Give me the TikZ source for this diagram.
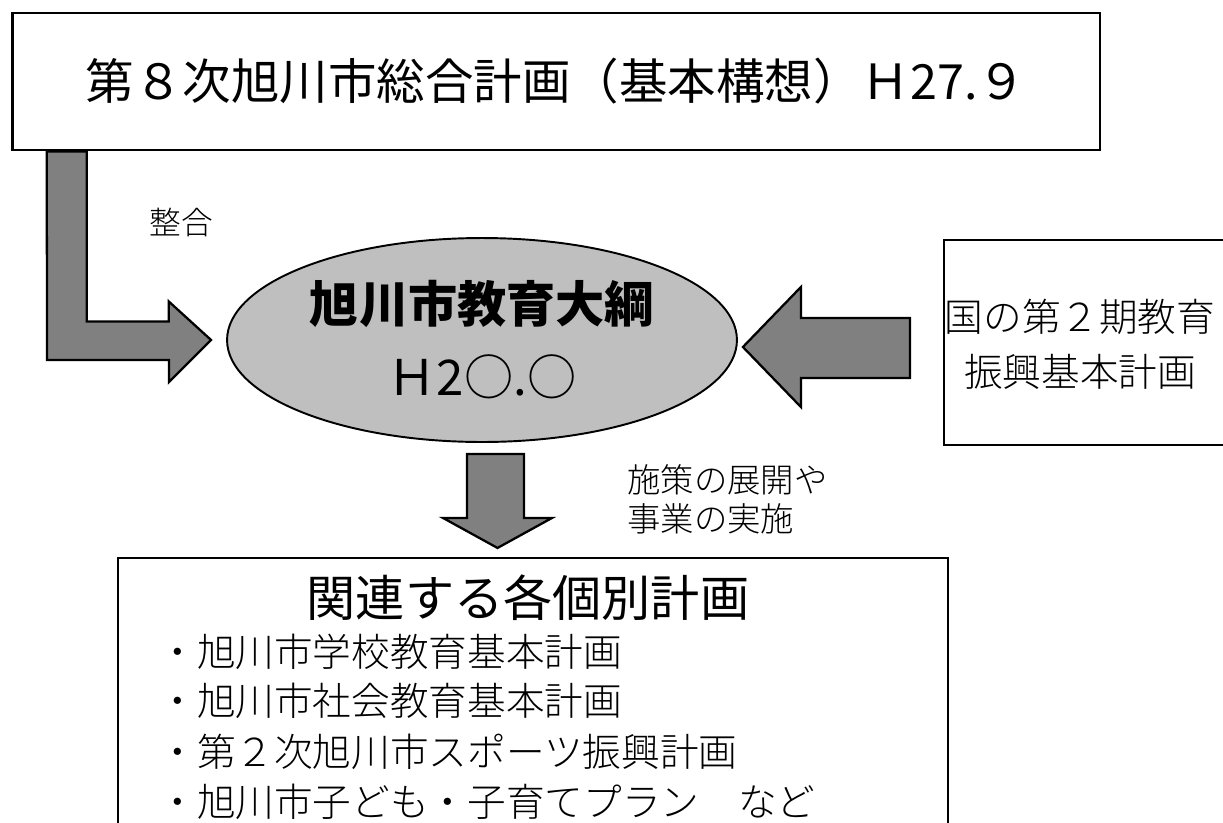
\documentclass[tikz,border=0pt]{standalone}
\usepackage{fontspec}
\setmainfont{Noto Sans CJK JP}
\newfontfamily\thinjp{Noto Sans CJK JP Light}
\usetikzlibrary{shapes.geometric,calc,backgrounds}

\tikzset{
	framebox/.style={draw,line width=1.6pt,inner sep=0pt},
	blockarrow/.style={draw,fill=black!50,line width=1.3pt,line join=miter},
	note/.style={font=\thinjp\fontsize{18}{22}\selectfont,inner sep=0pt},
	planitem/.style={anchor=west,font=\thinjp\fontsize{22}{26}\selectfont,inner sep=0pt},
}

\begin{document}
\begin{tikzpicture}[x=0.02cm,y=-0.02cm]
	\useasboundingbox (0,0) rectangle (1223,822);

	\node[framebox,minimum width=21.76cm,minimum height=2.74cm,font=\fontsize{27.6}{32}\selectfont] (sogo) at (556,81.5) {第８次旭川市総合計画（基本構想）Ｈ27.９};
	\node[ellipse,draw,fill=black!25,line width=1.1pt,inner sep=0pt,minimum width=10.2cm,minimum height=4.08cm,align=center,font=\fontsize{28}{41.5}\selectfont] (taiko) at (482,340) {\textbf{旭川市教育大綱}\\Ｈ2○.○};
	\node[framebox,minimum width=5.92cm,minimum height=4.1cm] (kuni) at (1092,342.5) {};
	\node[align=center,inner sep=0pt,font=\thinjp\fontsize{22}{31.3}\selectfont] (kunitext) at (1080,344) {国の第２期教育\\振興基本計画};
	\node[framebox,minimum width=16.6cm,minimum height=5.84cm] (kobetsu) at (533,704) {};
	\node[font=\fontsize{28}{32}\selectfont,inner sep=0pt] (kobetsutitle) at (528,598) {関連する各個別計画};

	\node[planitem] (plan1) at (158,652) {・旭川市学校教育基本計画};
	\node[planitem] (plan2) at (158,701) {・旭川市社会教育基本計画};
	\node[planitem] (plan3) at (158,752) {・第２次旭川市スポーツ振興計画};
	\node[planitem] (plan4) at (158,802) {・旭川市子ども・子育てプラン　など};

	\node[note] (seigo) at (181,222) {整合};
	\node[note,font=\thinjp\fontsize{17}{20}\selectfont] (sanshaku) at (853,348) {参酌};
	\node[note,anchor=west,align=left,font=\thinjp\fontsize{19}{22.2}\selectfont] (tenkai) at (627,499) {施策の展開や\\事業の実施};

	\begin{scope}[on background layer]
		\draw[blockarrow] ($(sogo.south west)+(36,0)$) -- ++(40,0) -- ++(0,170) -- ++(82,0) -- ++(0,-20)
			-- ($(taiko.west)+(-15,0)$) -- ++(-42,42) -- ++(0,-22) -- ++(-122,0) -- cycle;
	\end{scope}
	\draw[blockarrow] ($(taiko.east)+(5,7)$) -- ++(58,-60) -- ++(0,31) -- ++(109,0) -- ++(0,60)
		-- ++(-109,0) -- ++(0,29) -- cycle;
	\draw[blockarrow] ($(taiko.south)+(-15,11)$) -- ++(57,0) -- ++(0,64) -- ++(28,0) -- ++(-54.5,30)
		-- ++(-54.5,-30) -- ++(24,0) -- cycle;
\end{tikzpicture}
\end{document}
